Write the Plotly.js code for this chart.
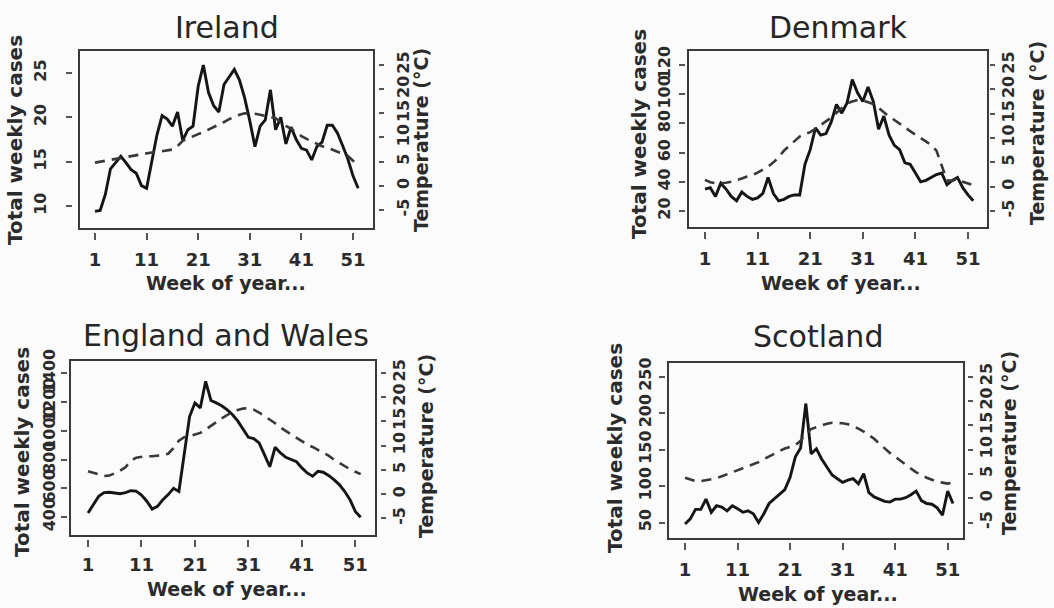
<!DOCTYPE html>
<html>
<head>
<meta charset="utf-8">
<script src="https://cdn.plot.ly/plotly-3.0.1.min.js"></script>
<style>html,body{margin:0;padding:0;background:#fbfbfb;}#chart{width:1054px;height:608px;}</style>
</head>
<body>
<div id="chart"></div>
<script>
// ---------------- data ----------------
const weeks = [1,2,3,4,5,6,7,8,9,10,11,12,13,14,15,16,17,18,19,20,21,22,23,24,25,26,
               27,28,29,30,31,32,33,34,35,36,37,38,39,40,41,42,43,44,45,46,47,48,49,50,51,52];
const weekTicks = [1, 11, 21, 31, 41, 51];
const tempTicks = [-5, 0, 5, 10, 15, 20, 25];
const tempTickText = ["-5", "0", "5", "10", "15", "20", "25"];

const panelTitles = ["Ireland", "Denmark", "England and Wales", "Scotland"];

const irelandCases = [9.4,9.5,11.3,14.2,14.9,15.6,14.9,14.1,13.7,12.3,12.0,15.2,18.0,20.2,19.8,19.0,20.6,17.4,18.6,19.0,
  23.5,25.9,22.8,21.3,20.6,23.7,24.6,25.4,24.2,22.2,19.6,16.7,19.0,19.7,23.1,18.6,20.0,17.0,18.9,17.5,
  16.5,16.3,15.2,16.7,17.2,19.1,19.1,18.2,16.8,15.3,13.4,12.0];
const irelandTemp = [4.8,5.0,5.2,5.4,5.6,5.8,6.0,6.2,6.4,6.5,6.7,6.9,7.0,7.2,7.4,7.5,8.2,9.3,9.8,10.3,
  10.7,11.1,11.6,12.1,12.6,13.2,13.8,14.3,14.7,15.0,15.0,14.9,14.7,14.5,14.2,14.0,13.2,12.4,11.8,11.0,
  10.3,9.7,9.2,8.7,8.2,7.9,7.5,7.1,6.7,6.2,5.2,4.1];

const denmarkCases = [35,36,30,39,35,30,27,33,30,28,29,32,43,32,27,28,30,31,31,52,
  62,77,72,73,81,93,87,94,110,101,95,105,95,76,85,72,65,62,53,52,
  46,40,41,43,45,46,38,41,43,36,31,27];
const denmarkTemp = [1.4,0.9,0.7,0.7,0.8,1.0,1.3,1.7,2.1,2.4,2.9,3.5,4.1,5.0,6.0,7.4,8.4,9.2,10.3,10.8,
  11.2,11.9,12.7,13.5,14.2,15.2,16.2,17.1,17.5,17.8,17.7,17.4,17.0,16.2,15.2,14.4,13.7,13.0,12.2,11.4,
  10.7,10.0,9.3,8.6,7.4,4.5,1.3,1.2,1.7,1.0,0.6,0.3];

const englandCases = [428,490,545,570,572,567,562,570,583,580,553,510,455,474,521,556,600,578,830,1100,
  1195,1160,1345,1212,1195,1175,1148,1114,1070,1010,955,946,916,834,750,886,846,816,800,785,
  742,707,684,718,712,690,660,626,579,521,439,398];
const englandTemp = [4.7,4.4,4.0,3.7,3.8,4.3,4.8,5.5,6.8,7.5,7.7,7.8,7.8,7.9,8.0,8.3,9.5,11.0,11.7,11.9,
  12.2,12.6,13.3,14.0,14.8,15.6,16.3,16.9,17.3,17.6,17.7,17.4,16.8,16.1,15.4,14.6,13.7,13.0,12.3,11.6,
  10.9,10.2,9.7,9.1,8.6,7.9,7.1,6.4,5.7,5.1,4.6,4.1];

const scotlandCases = [48,55,68,68,82,64,73,71,66,73,69,64,66,62,50,62,76,82,88,95,
  112,140,152,213,144,151,137,126,115,110,105,108,110,103,117,91,85,82,79,78,
  82,82,84,88,93,80,76,75,70,60,93,76];
const scotlandTemp = [4.2,3.8,3.5,3.5,3.7,3.9,4.1,4.5,4.9,5.3,5.7,6.1,6.5,6.9,7.4,8.0,8.6,9.1,9.7,10.2,
  10.5,10.9,11.8,13.2,14.2,14.6,15.0,15.3,15.5,15.5,15.4,15.2,14.8,14.3,13.7,13.0,12.2,11.2,10.2,9.3,
  8.5,7.7,6.9,6.0,5.3,4.8,4.2,3.8,3.4,3.2,3.0,3.2];

const caseTicks = [
  [10, 15, 20, 25],
  [20, 40, 60, 80, 100, 120],
  [400, 600, 800, 1000, 1200, 1400],
  [50, 100, 150, 200, 250]
];
const casesSeries = [irelandCases, denmarkCases, englandCases, scotlandCases];
const tempSeries = [irelandTemp, denmarkTemp, englandTemp, scotlandTemp];

const xTitle = "Week of year...";
const yTitle = "Total weekly cases";
const y2Title = "Temperature (°C)";

// ---------------- geometry (pixels) ----------------
const W = 1054, H = 608;
const fx = p => p / W;
const fy = p => 1 - p / H;
const FONT = "DejaVu Sans";
const TXT = "#2b2b2b";

const geo = [
  {box:[79,374,50,229],  xr:[-2.10,55.07], yl:[7.41,27.59],  yr:[-8.93,28.1],
   lp:72,  ls:14, rp:378, rs:6, xp:232, xs:4,
   title:[227,27], xt:[226,283], yt:[15,140], y2t:[421,140]},
  {box:[688,988,50,228], xr:[-2.23,54.8],  yl:[8.36,130.3],  yr:[-8.49,28.08],
   lp:685, ls:3, rp:989, rs:0, xp:231, xs:4,
   title:[838,27], xt:[841,283], yt:[639,134], y2t:[1037,133]},
  {box:[70,376,360,536], xr:[-2.37,54.87], yl:[267.6,1494],  yr:[-8.65,27.62],
   lp:67,  ls:0, rp:380, rs:0, xp:539, xs:2,
   title:[226,335], xt:[227,589], yt:[22,452], y2t:[426,446]},
  {box:[668,964,362,539],xr:[-2.24,54.1],  yl:[27.4,269.9],  yr:[-8.39,27.98],
   lp:665, ls:2, rp:967, rs:0, xp:542, xs:4,
   title:[818,336], xt:[818,594], yt:[615,448], y2t:[1009,443]}
];

const traces = [];
const layout = {
  width: W, height: H,
  margin: {l:0, r:0, t:0, b:0},
  paper_bgcolor: "#fbfbfb",
  plot_bgcolor: "#fbfbfb",
  showlegend: false,
  font: {family: FONT, color: TXT},
  shapes: [],
  annotations: []
};

geo.forEach((g, i) => {
  const xn = i === 0 ? "x" : "x" + (i + 1);
  const yl = 2 * i + 1, yr = 2 * i + 2;
  const yln = yl === 1 ? "y" : "y" + yl;
  const yrn = "y" + yr;
  const xKey = i === 0 ? "xaxis" : "xaxis" + (i + 1);
  const ylKey = yl === 1 ? "yaxis" : "yaxis" + yl;
  const yrKey = "yaxis" + yr;
  const [bx0, bx1, by0, by1] = g.box;

  traces.push({x: weeks, y: casesSeries[i], xaxis: xn, yaxis: yln, type: "scatter", mode: "lines",
    line: {color: "#151515", width: 2.9}, hoverinfo: "skip"});
  traces.push({x: weeks, y: tempSeries[i], xaxis: xn, yaxis: yrn, type: "scatter", mode: "lines",
    line: {color: "#383838", width: 2.6, dash: "10px,7px"}, hoverinfo: "skip"});

  layout[xKey] = {
    domain: [fx(bx0), fx(bx1)], range: g.xr, anchor: "free", position: fy(g.xp),
    tickvals: weekTicks, ticks: "outside", ticklen: 7, tickwidth: 2, tickcolor: "#555",
    showline: false, showgrid: false, zeroline: false, ticklabelstandoff: g.xs,
    tickfont: {family: FONT, size: 18, color: TXT, weight: "bold"}
  };
  layout[ylKey] = {
    domain: [fy(by1), fy(by0)], range: g.yl, anchor: "free", position: fx(g.lp), side: "left",
    tickvals: caseTicks[i], ticks: "outside", ticklen: 6, tickwidth: 2, tickcolor: "#555",
    tickangle: -90, showline: false, showgrid: false, zeroline: false, ticklabelstandoff: g.ls,
    tickfont: {family: FONT, size: 16, color: TXT, weight: "bold"}
  };
  layout[yrKey] = {
    overlaying: yln, range: g.yr, anchor: "free", position: fx(g.rp), side: "right",
    tickvals: tempTicks, ticktext: tempTickText, ticks: "outside", ticklen: 5, tickwidth: 2, tickcolor: "#555",
    tickangle: -90, showline: false, showgrid: false, zeroline: false, ticklabelstandoff: g.rs,
    tickfont: {family: FONT, size: 16, color: TXT, weight: "bold"}
  };

  layout.shapes.push({type: "rect", xref: "paper", yref: "paper",
    x0: fx(bx0), x1: fx(bx1), y0: fy(by1), y1: fy(by0),
    line: {color: "#3a3a3a", width: 2}, fillcolor: "rgba(0,0,0,0)"});

  layout.annotations.push({text: panelTitles[i], xref: "paper", yref: "paper",
    x: fx(g.title[0]), y: fy(g.title[1]), xanchor: "center", yanchor: "middle", showarrow: false,
    font: {family: FONT, size: 30, color: "#262626"}});
  layout.annotations.push({text: xTitle, xref: "paper", yref: "paper",
    x: fx(g.xt[0]), y: fy(g.xt[1]), xanchor: "center", yanchor: "middle", showarrow: false,
    font: {family: FONT, size: 19, color: TXT, weight: "bold"}});
  layout.annotations.push({text: yTitle, xref: "paper", yref: "paper", textangle: -90,
    x: fx(g.yt[0]), y: fy(g.yt[1]), xanchor: "center", yanchor: "middle", showarrow: false,
    font: {family: FONT, size: 20, color: TXT, weight: "bold"}});
  layout.annotations.push({text: y2Title, xref: "paper", yref: "paper", textangle: -90,
    x: fx(g.y2t[0]), y: fy(g.y2t[1]), xanchor: "center", yanchor: "middle", showarrow: false,
    font: {family: FONT, size: 19, color: TXT, weight: "bold"}});
});

Plotly.newPlot("chart", traces, layout, {staticPlot: true, displayModeBar: false});
</script>
</body>
</html>
